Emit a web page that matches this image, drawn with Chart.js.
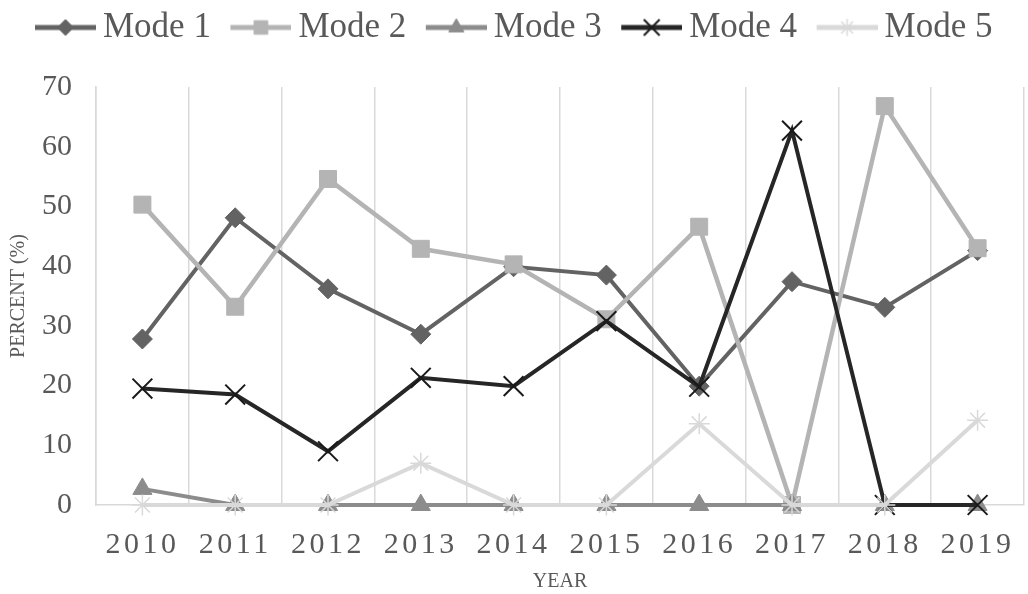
<!DOCTYPE html>
<html>
<head>
<meta charset="utf-8">
<script src="https://cdn.jsdelivr.net/npm/chart.js@4.4.1/dist/chart.umd.min.js"></script>
<style>
  html, body { margin: 0; padding: 0; background: #fff; overflow: hidden; }
  canvas { display: block; }
</style>
</head>
<body>
<canvas id="chart" width="1028" height="594"></canvas>
<script>
const years = ['2010', '2011', '2012', '2013', '2014', '2015', '2016', '2017', '2018', '2019'];
const seriesNames = ['Mode 1', 'Mode 2', 'Mode 3', 'Mode 4', 'Mode 5'];
const mode1 = [27.8, 48.1, 36.2, 28.6, 39.9, 38.5, 19.9, 37.4, 33.1, 42.6];
const mode2 = [50.3, 33.2, 54.6, 42.9, 40.3, 31.1, 46.6, 0, 66.8, 43.0];
const mode3 = [2.7, 0, 0, 0, 0, 0, 0, 0, 0, 0];
const mode4 = [19.5, 18.5, 9.0, 21.3, 19.9, 30.8, 19.8, 62.7, 0, 0];
const mode5 = [0, 0, 0, 7.0, 0, 0, 13.6, 0, 0, 14.2];
const yMin = 0;
const yMax = 70;
const yStep = 10;

const TEXT_COLOR = '#595959';
const GRID_COLOR = '#d9d9d9';
const FONT = "'Liberation Serif', 'Times New Roman', serif";

// plot box of the reference, in canvas pixels
const PLOT_LEFT = 96;
const PLOT_TOP = 87;
const PLOT_BOTTOM = 505;
const PAD = { top: 0, right: 4, left: 4, bottom: 0 };
const LEGEND_SHIFT = -5;

const styles = [
  { color: '#636363', marker: '#636363', shape: 'rectRot', radius: 10, markerBorder: 1, width: 4 },
  { color: '#b4b4b4', marker: '#b4b4b4', shape: 'rect', radius: 12, markerBorder: 1, width: 4.5 },
  { color: '#8c8c8c', marker: '#8c8c8c', shape: 'triangle', radius: 11, markerBorder: 1, width: 4 },
  { color: '#262626', marker: '#1a1a1a', shape: 'crossRot', radius: 14, markerBorder: 2, width: 4 },
  { color: '#d9d9d9', marker: '#d9d9d9', shape: 'star', radius: 10.5, markerBorder: 1.5, width: 4 },
];
const values = [mode1, mode2, mode3, mode4, mode5];

// legend sample: a short line with the marker in the middle
function legendIcon(style) {
  const c = document.createElement('canvas');
  c.width = 81;
  c.height = 30;
  const ctx = c.getContext('2d');
  ctx.strokeStyle = style.color;
  ctx.lineWidth = 5;
  ctx.beginPath();
  ctx.moveTo(20, 15);
  ctx.lineTo(81, 15);
  ctx.stroke();
  ctx.fillStyle = style.marker;
  ctx.strokeStyle = style.marker;
  ctx.lineWidth = style.markerBorder;
  Chart.helpers.drawPoint(ctx, {
    pointStyle: style.shape,
    radius: style.radius * 0.8,
    borderWidth: style.markerBorder,
    rotation: 0,
  }, 50.5, 15);
  return c;
}

const datasets = seriesNames.map((name, i) => ({
  label: name,
  data: values[i],
  borderColor: styles[i].color,
  borderWidth: styles[i].width,
  backgroundColor: styles[i].marker,
  pointStyle: styles[i].shape,
  pointRadius: styles[i].radius,
  pointBackgroundColor: styles[i].marker,
  pointBorderColor: styles[i].marker,
  pointBorderWidth: styles[i].markerBorder,
  tension: 0,
  clip: false,
  order: seriesNames.length - i,
}));

const legendSpace = {
  id: 'legendSpace',
  afterInit(chart) {
    const fit = chart.legend.fit;
    chart.legend.fit = function () {
      fit.call(this);
      this.height = PLOT_TOP - PAD.top;
    };
  },
  afterLayout(chart) {
    chart.legend.left += LEGEND_SHIFT;
    chart.legend.right += LEGEND_SHIFT;
  },
};

const spacedTicks = {
  id: 'spacedTicks',
  beforeDraw(chart) {
    const scale = chart.scales.x;
    if (scale._spaced) return;
    const draw = scale.drawLabels.bind(scale);
    scale.drawLabels = (area) => {
      chart.ctx.save();
      chart.ctx.letterSpacing = '3.5px';
      draw(area);
      chart.ctx.restore();
    };
    scale._spaced = true;
  },
};

const ctx = document.getElementById('chart').getContext('2d');
new Chart(ctx, {
  type: 'line',
  data: { labels: years, datasets },
  plugins: [legendSpace, spacedTicks],
  options: {
    responsive: false,
    devicePixelRatio: 1,
    animation: false,
    events: [],
    layout: { padding: PAD, autoPadding: false },
    plugins: {
      tooltip: { enabled: false },
      legend: {
        position: 'top',
        labels: {
          usePointStyle: true,
          pointStyleWidth: 60,
          padding: 10,
          color: TEXT_COLOR,
          font: { family: FONT, size: 35 },
          sort: (a, b) => a.datasetIndex - b.datasetIndex,
          generateLabels: (chart) => chart.data.datasets.map((ds, i) => ({
            text: ds.label,
            fontColor: TEXT_COLOR,
            pointStyle: legendIcon(styles[i]),
            fillStyle: 'transparent',
            strokeStyle: 'transparent',
            lineWidth: 0,
            hidden: false,
            datasetIndex: i,
          })),
        },
      },
    },
    scales: {
      x: {
        offset: true,
        grid: { display: true, offset: true, color: GRID_COLOR, lineWidth: 1.5, drawTicks: false },
        border: { display: true, color: GRID_COLOR, width: 1.5 },
        ticks: { color: TEXT_COLOR, font: { family: FONT, size: 30 }, padding: 22, maxRotation: 0 },
        title: { display: true, text: 'YEAR', color: TEXT_COLOR, font: { family: FONT, size: 20 }, padding: { top: 2, bottom: 0 } },
        afterFit(scale) {
          scale.height = 594 - PLOT_BOTTOM - PAD.bottom;
          scale.paddingLeft = 0;
          scale.paddingRight = 0;
        },
      },
      y: {
        min: yMin,
        max: yMax,
        grid: { display: false, drawTicks: false },
        border: { display: true, color: GRID_COLOR, width: 1.5 },
        ticks: { stepSize: yStep, color: TEXT_COLOR, font: { family: FONT, size: 30 }, padding: 24 },
        title: { display: true, text: 'PERCENT (%)', color: TEXT_COLOR, font: { family: FONT, size: 20 }, padding: { top: 3, bottom: 2 } },
        afterFit(scale) {
          scale.width = PLOT_LEFT - PAD.left;
          scale.paddingTop = 0;
          scale.paddingBottom = 0;
        },
      },
    },
  },
});
</script>
</body>
</html>
